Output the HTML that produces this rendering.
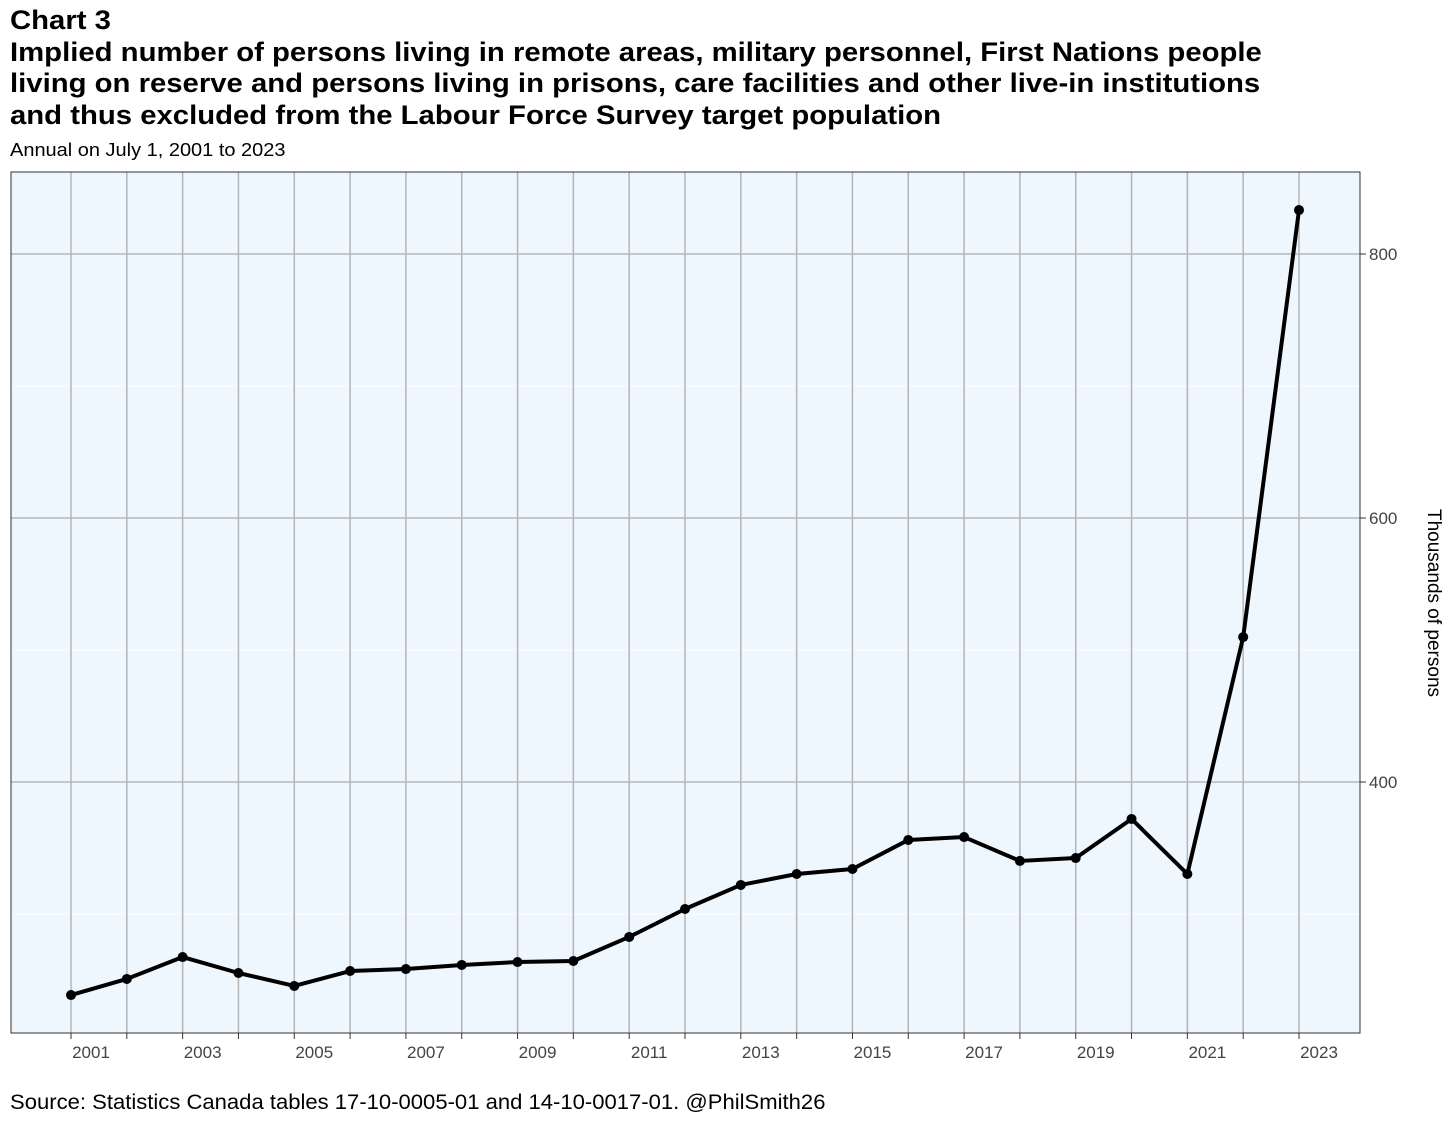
<!DOCTYPE html>
<html><head><meta charset="utf-8"><style>
body{margin:0;background:#fff;font-family:"Liberation Sans",Arial,sans-serif;}
.t{position:absolute;left:10px;color:#000;transform-origin:0 0;white-space:nowrap;}
</style></head><body>
<div style="position:relative;width:1456px;height:1125px;overflow:hidden">
<div class="t" style="top:5px;font-size:27px;font-weight:bold;line-height:31.5px;transform:scaleX(1.085)">Chart 3<br>Implied number of persons living in remote areas, military personnel, First Nations people<br>living on reserve and persons living in prisons, care facilities and other live-in institutions<br>and thus excluded from the Labour Force Survey target population</div>
<div class="t" style="top:140px;font-size:18px;transform:scaleX(1.11)">Annual on July 1, 2001 to 2023</div>
<div class="t" style="top:1091px;font-size:21px;transform:scaleX(1.05)">Source: Statistics Canada tables 17-10-0005-01 and 14-10-0017-01. @PhilSmith26</div>
<svg id="c" width="1456" height="1125" style="position:absolute;left:0;top:0"></svg>
</div>
<script>
const years=[2001,2002,2003,2004,2005,2006,2007,2008,2009,2010,2011,2012,2013,2014,2015,2016,2017,2018,2019,2020,2021,2022,2023];
const values=[238.6,250.8,267.4,255.3,245.5,256.8,258.3,261.4,263.6,264.4,282.6,303.8,322,330.3,334.1,356.1,358.3,340.2,342.4,372,330.3,509.8,833.3];
const yTicks=[400,600,800];
const yMinor=[300,500,700];
const xTicks=[2001,2003,2005,2007,2009,2011,2013,2015,2017,2019,2021,2023];
const svg=document.getElementById('c');const NS='http://www.w3.org/2000/svg';
const L=11,R=1360,T=172,B=1033;
const x=v=>71+(v-2001)*(1299-71)/22;
const y=v=>782-(v-400)*1.32;
function mk(t,a,p){const e=document.createElementNS(NS,t);for(const k in a)e.setAttribute(k,a[k]);(p||svg).appendChild(e);return e;}
const bg=mk('rect',{x:L,y:T,width:R-L,height:B-T,fill:'#eef6fe'});


yMinor.forEach(v=>{const l=mk('line',{x1:L,x2:R,y1:y(v),y2:y(v),stroke:'#fff','stroke-width':1});

});
years.forEach(v=>{const l=mk('line',{x1:x(v),x2:x(v),y1:T,y2:B,stroke:'#b5b5b5','stroke-width':1.5});

});
yTicks.forEach(v=>{const l=mk('line',{x1:L,x2:R,y1:y(v),y2:y(v),stroke:'#b5b5b5','stroke-width':1.5});


const tk=mk('line',{x1:R,x2:R+6,y1:y(v),y2:y(v),stroke:'#333','stroke-width':1});


const t=mk('text',{x:R+9,y:y(v)+6,'font-size':17,fill:'#444','font-family':'Liberation Sans'});t.textContent=v;

});
years.forEach(v=>{const tk=mk('line',{x1:x(v),x2:x(v),y1:B,y2:B+6,stroke:'#333','stroke-width':1});

});
xTicks.forEach(v=>{const t=mk('text',{x:x(v)+20,y:B+25,'font-size':17,fill:'#444','text-anchor':'middle','font-family':'Liberation Sans'});t.textContent=v;

});
const fr=mk('rect',{x:L,y:T,width:R-L,height:B-T,fill:'none',stroke:'#333','stroke-width':1});


const yt=mk('text',{transform:'translate(1428,603) rotate(90)','font-size':19,'text-anchor':'middle','font-family':'Liberation Sans'});yt.textContent='Thousands of persons';


const ln=mk('polyline',{points:years.map((v,i)=>x(v)+','+y(values[i])).join(' '),fill:'none',stroke:'#000','stroke-width':4,'stroke-linejoin':'round'});


years.forEach((v,i)=>{const c=mk('circle',{cx:x(v),cy:y(values[i]),r:5,fill:'#000'});

});
</script>
</body></html>
